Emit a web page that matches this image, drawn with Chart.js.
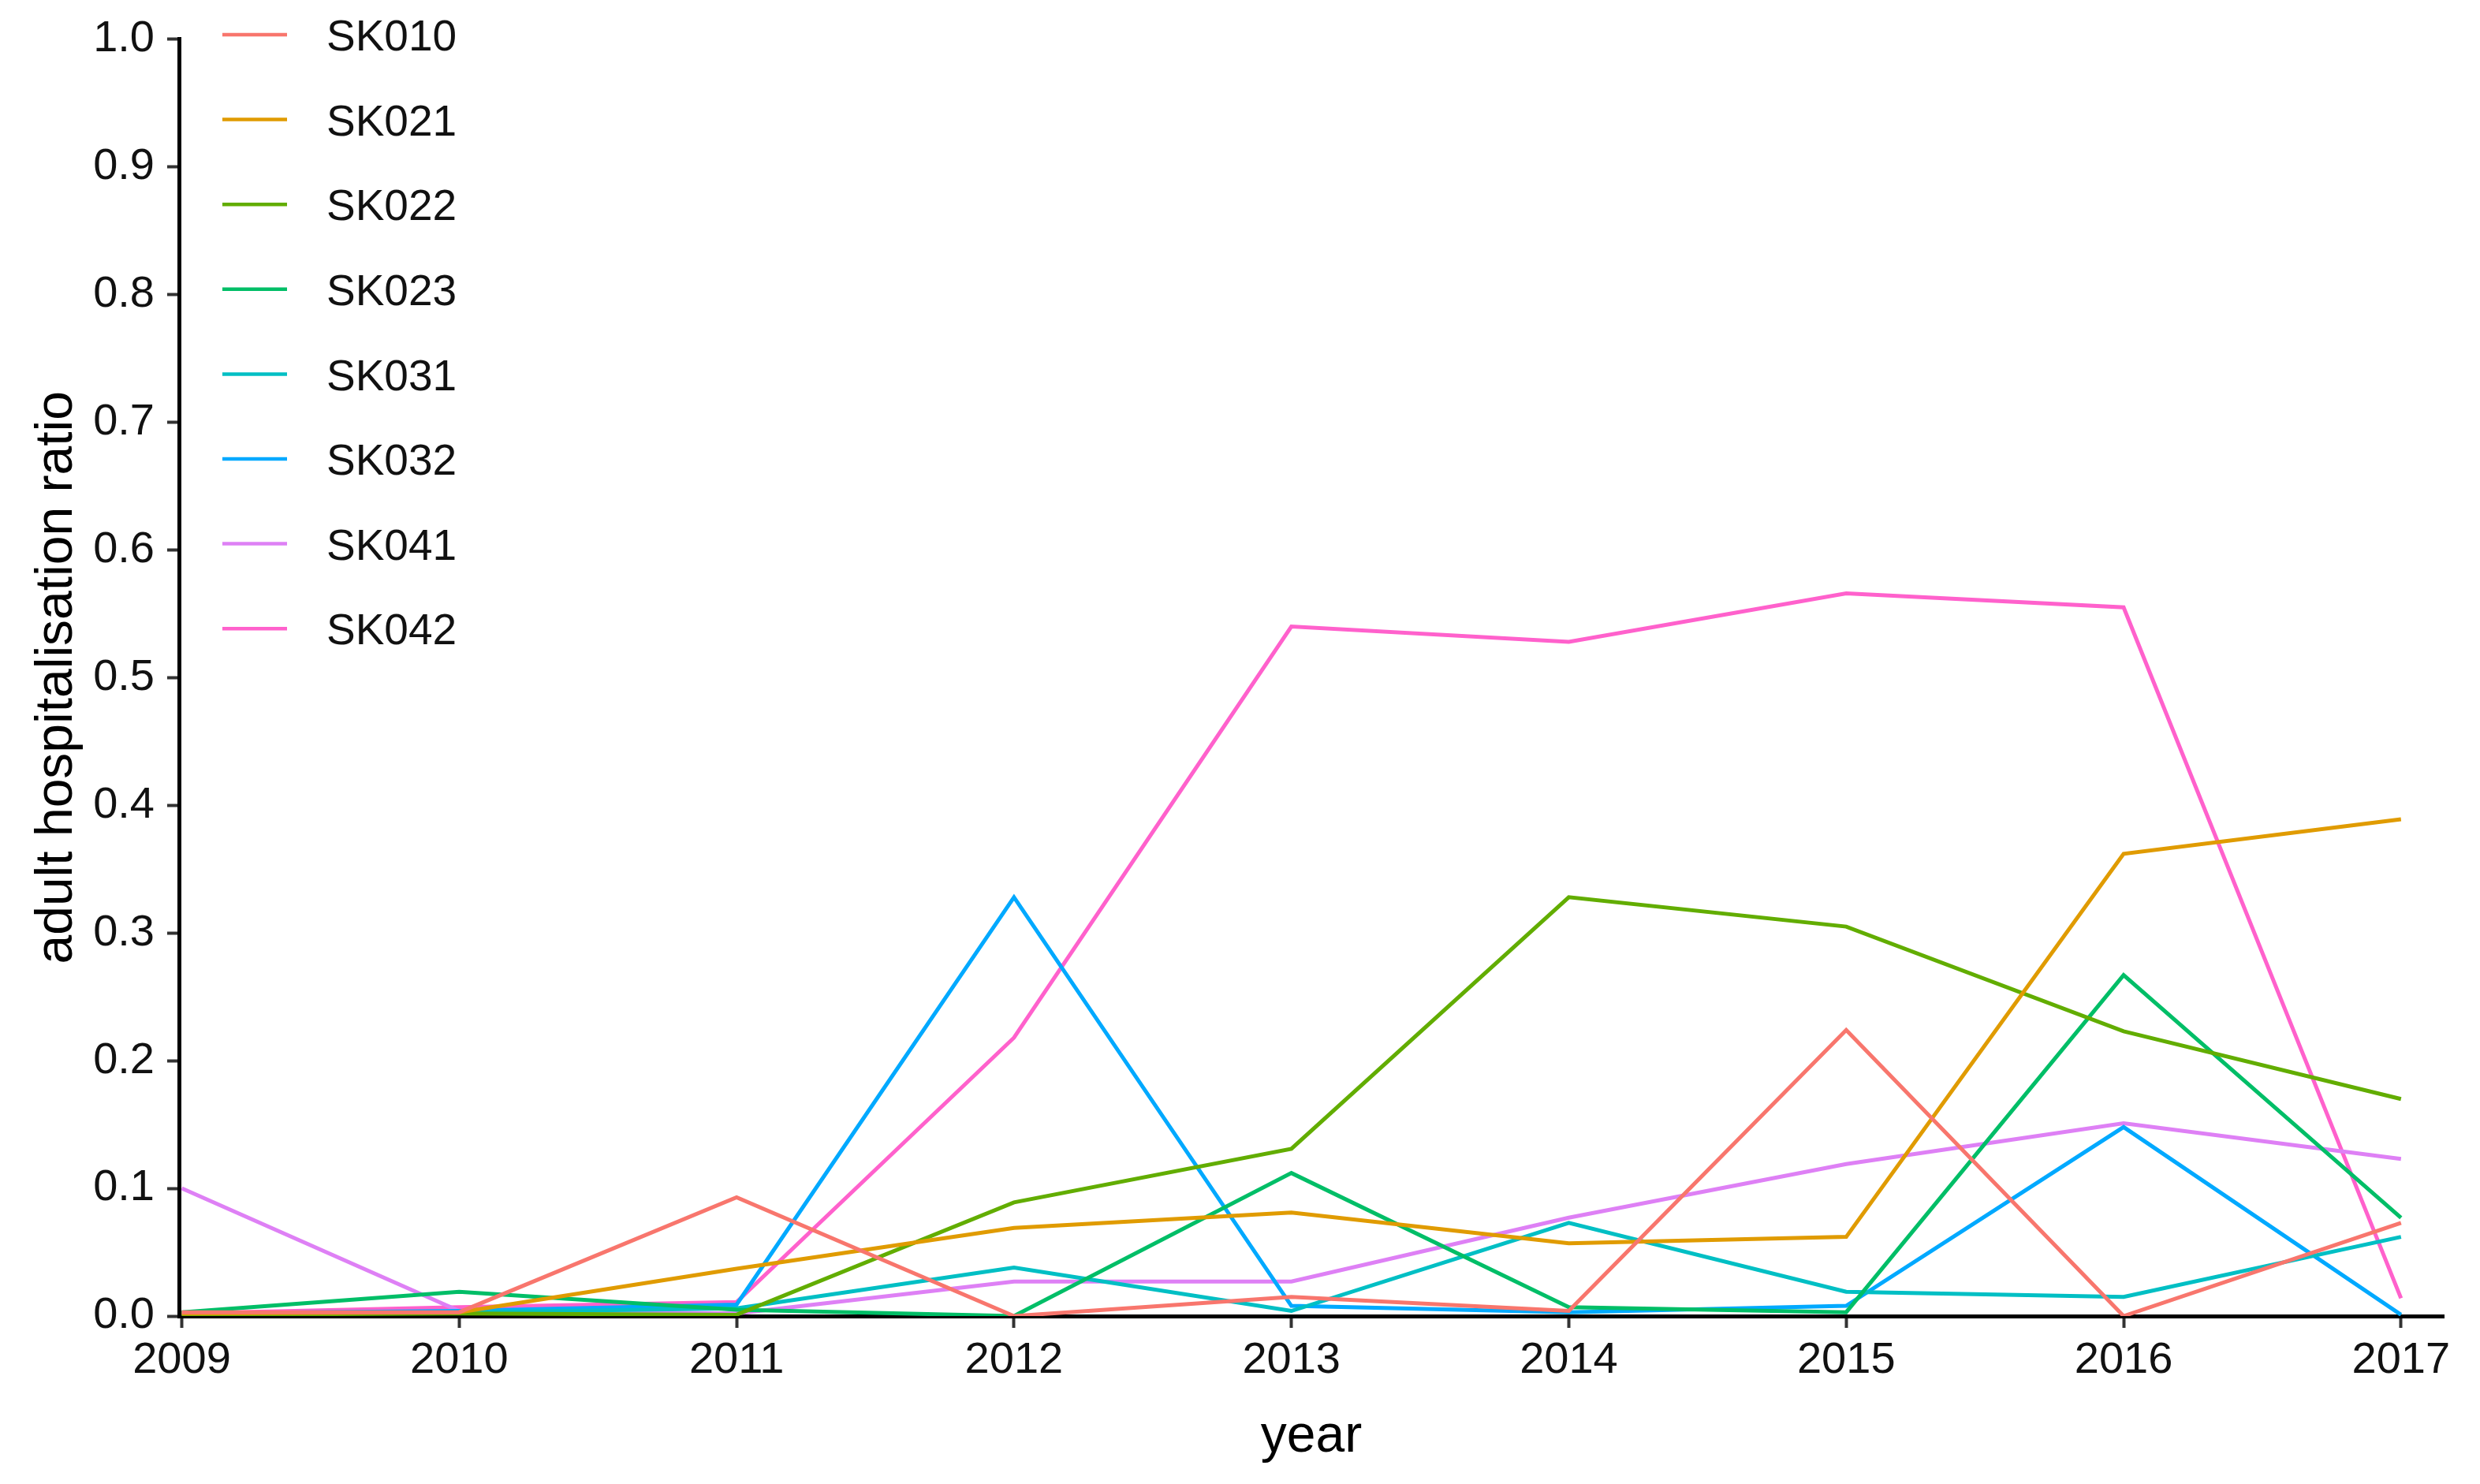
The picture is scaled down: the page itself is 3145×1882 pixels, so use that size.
<!DOCTYPE html>
<html>
<head>
<meta charset="utf-8">
<script src="https://cdn.jsdelivr.net/npm/chart.js@4.4.1/dist/chart.umd.min.js"></script>
<style>
  body { margin: 0; background: #fff; }
  canvas { display: block; }
</style>
</head>
<body>
<canvas id="chart" width="3145" height="1882"></canvas>
<script>
// data
const years = [2009, 2010, 2011, 2012, 2013, 2014, 2015, 2016, 2017];
const yTicks = [0, 0.1, 0.2, 0.3, 0.4, 0.5, 0.6, 0.7, 0.8, 0.9, 1.0];
const regions = ["SK010", "SK021", "SK022", "SK023", "SK031", "SK032", "SK041", "SK042"];

const sk010 = [0.003, 0.003, 0.093, 0.000, 0.015, 0.004, 0.224, 0.000, 0.073];
const sk021 = [0.002, 0.003, 0.037, 0.069, 0.081, 0.057, 0.062, 0.362, 0.389];
const sk022 = [0.001, 0.002, 0.001, 0.089, 0.131, 0.328, 0.305, 0.223, 0.170];
const sk023 = [0.003, 0.019, 0.005, 0.000, 0.112, 0.007, 0.003, 0.267, 0.077];
const sk031 = [0.002, 0.003, 0.006, 0.038, 0.004, 0.073, 0.019, 0.015, 0.062];
const sk032 = [0.002, 0.004, 0.009, 0.328, 0.008, 0.003, 0.008, 0.148, 0.001];
const sk041 = [0.100, 0.004, 0.002, 0.027, 0.027, 0.077, 0.119, 0.151, 0.123];
const sk042 = [0.002, 0.007, 0.011, 0.218, 0.540, 0.528, 0.566, 0.555, 0.014];

const seriesValues = [sk010, sk021, sk022, sk023, sk031, sk032, sk041, sk042];
const colors = ["#F8766D", "#E09B00", "#62AD00", "#00BE67", "#00BFC4", "#00A9FF", "#DE80F5", "#FF61CC"];

const FONT = "'Liberation Sans', Arial, sans-serif";

// legend drawn inside the plot, top left
const insideLegend = {
    id: "insideLegend",
    afterDraw(chart) {
        const ctx = chart.ctx;
        ctx.save();
        ctx.font = "55px " + FONT;
        ctx.textBaseline = "middle";
        ctx.textAlign = "left";
        chart.data.datasets.forEach((ds, i) => {
            const y = 44 + i * 107.6;
            ctx.strokeStyle = ds.borderColor;
            ctx.lineWidth = 4.5;
            ctx.beginPath();
            ctx.moveTo(282, y);
            ctx.lineTo(364, y);
            ctx.stroke();
            ctx.fillStyle = "#111";
            ctx.fillText(ds.label, 414, y + 5);
        });
        ctx.restore();
    }
};

const datasets = regions.map((r, i) => ({
    label: r,
    data: years.map((y, j) => ({ x: y, y: seriesValues[i][j] })),
    borderColor: colors[i],
    backgroundColor: colors[i],
    borderWidth: 5,
    pointRadius: 0,
    tension: 0,
    fill: false
}));

new Chart(document.getElementById("chart"), {
    type: "line",
    data: { datasets: datasets },
    plugins: [insideLegend],
    options: {
        responsive: false,
        devicePixelRatio: 1,
        animation: false,
        layout: { padding: { top: 48, right: 46, left: 0, bottom: 0 } },
        plugins: {
            legend: { display: false },
            tooltip: { enabled: false }
        },
        scales: {
            x: {
                type: "linear",
                min: 2008.99,
                max: 2017.154,
                afterBuildTicks: s => { s.ticks = years.map(v => ({ value: v })); },
                afterFit: s => { s.height = 213; },
                grid: { display: true, drawOnChartArea: false, drawTicks: true, tickLength: 15, tickWidth: 4, tickColor: "#333" },
                border: { display: true, color: "#000", width: 5 },
                ticks: { color: "#111", font: { family: FONT, size: 56 }, padding: 8, callback: v => String(v) },
                title: { display: true, text: "year", color: "#000", font: { family: FONT, size: 66 }, padding: { top: 0, bottom: 20 } }
            },
            y: {
                min: 0,
                max: 1,
                afterBuildTicks: s => { s.ticks = yTicks.map(v => ({ value: v })); },
                afterFit: s => { s.width = 227; },
                grid: { display: true, drawOnChartArea: false, drawTicks: true, tickLength: 15, tickWidth: 4, tickColor: "#333" },
                border: { display: true, color: "#000", width: 5 },
                ticks: { color: "#111", font: { family: FONT, size: 56 }, padding: 16, callback: v => v.toFixed(1) },
                title: { display: true, text: "adult hospitalisation ratio", color: "#000", font: { family: FONT, size: 66 }, padding: { top: 33, bottom: 0 } }
            }
        }
    }
});
</script>
</body>
</html>
